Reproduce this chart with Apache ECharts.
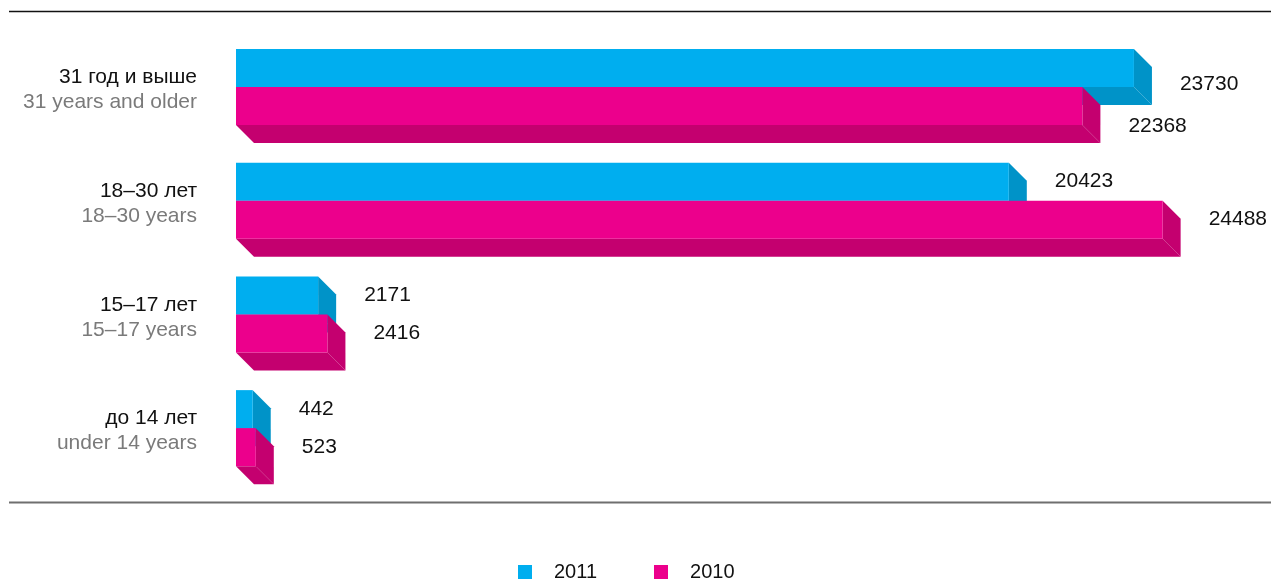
<!DOCTYPE html>
<html>
<head>
<meta charset="utf-8">
<script src="https://cdn.jsdelivr.net/npm/echarts@6/dist/echarts.min.js"></script>
<style>
  html, body { margin: 0; padding: 0; background: #fff; }
  #main { width: 1271px; height: 580px; }
</style>
</head>
<body>
<div id="main"></div>
<script>
// categories, top to bottom
var categoriesRu = ['31 год и выше', '18–30 лет', '15–17 лет', 'до 14 лет'];
var categoriesEn = ['31 years and older', '18–30 years', '15–17 years', 'under 14 years'];
var years = ['2011', '2010'];
var values2011 = [23730, 20423, 2171, 442];
var values2010 = [22368, 24488, 2416, 523];

var frontColors = ['#00aeef', '#ec008c'];
var sideColors = ['#0093c8', '#c4006f'];
var depth = 18;     // 3d offset
var barH = 38;
// the first group's value labels sit a bit lower in the original
var labelNudge = [[16, 20], [0, 0], [0, 0], [0, 0]];

var dom = document.getElementById('main');
var myChart = echarts.init(dom);

function makeRender(s) {
    return function (params, api) {
        var cat = api.value(1);
        var val = api.value(0);
        var p0 = api.coord([0, cat]);
        var p1 = api.coord([val, cat]);
        var x0 = p0[0], x1 = p1[0];
        var y0 = s === 0 ? p0[1] - barH : p0[1];
        var y1 = y0 + barH;
        var d = depth;
        return {
            type: 'group',
            children: [{
                type: 'polygon',
                shape: { points: [[x0, y1], [x1, y1], [x1 + d, y1 + d], [x0 + d, y1 + d]] },
                style: { fill: sideColors[s] }
            }, {
                type: 'polygon',
                shape: { points: [[x1, y0], [x1 + d, y0 + d], [x1 + d, y1 + d], [x1, y1]] },
                style: { fill: sideColors[s] }
            }, {
                type: 'rect',
                shape: { x: x0, y: y0, width: x1 - x0, height: barH },
                style: { fill: frontColors[s] }
            }, {
                type: 'text',
                x: x1 + d + 28,
                y: (y0 + y1) / 2 + labelNudge[cat][s],
                style: {
                    text: String(val),
                    fill: '#111',
                    font: '21px "Liberation Sans", Arial, sans-serif',
                    verticalAlign: 'middle',
                    align: 'left'
                }
            }]
        };
    };
}

function seriesData(vals) {
    return vals.map(function (v, i) { return [v, i]; });
}

var option = {
    backgroundColor: '#fff',
    animation: false,
    grid: { left: 236, right: 89, top: 30, height: 455 },
    xAxis: { type: 'value', min: 0, max: 25000, show: false },
    yAxis: {
        type: 'category',
        inverse: true,
        data: categoriesRu,
        axisLine: { show: false },
        axisTick: { show: false },
        axisLabel: {
            margin: 39,
            padding: [6, 0, 0, 0],
            formatter: function (v, i) {
                return '{ru|' + categoriesRu[i] + '}\n{en|' + categoriesEn[i] + '}';
            },
            rich: {
                ru: { fontSize: 21, color: '#111', lineHeight: 25, align: 'right', fontFamily: 'Liberation Sans' },
                en: { fontSize: 21, color: '#7a7a7a', lineHeight: 25, align: 'right', fontFamily: 'Liberation Sans' }
            }
        }
    },
    legend: {
        left: 518,
        top: 562,
        padding: 0,
        icon: 'rect',
        itemWidth: 14,
        itemHeight: 14,
        itemGap: 57,
        data: years,
        textStyle: { fontSize: 20, color: '#111', fontFamily: 'Liberation Sans', padding: [0, 0, 0, 17] }
    },
    graphic: [{
        type: 'line',
        shape: { x1: 9, y1: 11.5, x2: 1271, y2: 11.5 },
        style: { stroke: '#111', lineWidth: 1.5 }
    }, {
        type: 'line',
        shape: { x1: 9, y1: 502.5, x2: 1271, y2: 502.5 },
        style: { stroke: '#6f6f6f', lineWidth: 2 }
    }],
    series: [{
        name: years[0],
        type: 'custom',
        renderItem: makeRender(0),
        itemStyle: { color: frontColors[0] },
        encode: { x: 0, y: 1 },
        data: seriesData(values2011)
    }, {
        name: years[1],
        type: 'custom',
        renderItem: makeRender(1),
        itemStyle: { color: frontColors[1] },
        encode: { x: 0, y: 1 },
        data: seriesData(values2010)
    }]
};

myChart.setOption(option);
</script>
</body>
</html>
